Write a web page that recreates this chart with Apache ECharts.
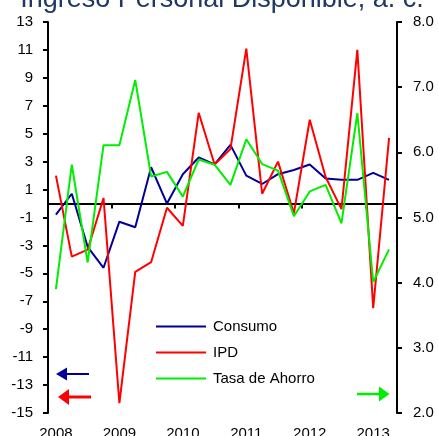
<!DOCTYPE html>
<html>
<head>
<meta charset="utf-8">
<style>
	html, body { margin: 0; padding: 0; background: #fff; }
	#chart { width: 438px; height: 436px; }
</style>
<script src="https://cdn.jsdelivr.net/npm/echarts@6/dist/echarts.min.js"></script>
</head>
<body>
<div id="chart"></div>
<script>
// trimestres 2008-T1 .. 2013-T2
var categorias = [
	'2008-T1', '2008-T2', '2008-T3', '2008-T4',
	'2009-T1', '2009-T2', '2009-T3', '2009-T4',
	'2010-T1', '2010-T2', '2010-T3', '2010-T4',
	'2011-T1', '2011-T2', '2011-T3', '2011-T4',
	'2012-T1', '2012-T2', '2012-T3', '2012-T4',
	'2013-T1', '2013-T2'
];
// eje izquierdo (%)
var consumo = [-0.8, 0.7, -3.1, -4.6, -1.3, -1.7, 2.6, 0.0, 2.1, 3.3, 2.8, 4.2,
	2.0, 1.4, 2.1, 2.4, 2.8, 1.8, 1.7, 1.7, 2.2, 1.7];
var ipd = [2.0, -3.8, -3.3, 0.4, -14.3, -4.9, -4.2, -0.3, -1.6, 6.5, 2.8, 3.9,
	11.1, 0.7, 3.0, -0.7, 6.0, 1.9, -0.4, 11.0, -7.5, 4.7];
// eje derecho (tasa de ahorro)
var tasaAhorro = [3.9, 5.81, 4.31, 6.11, 6.11, 7.11, 5.63, 5.70, 5.32, 5.89, 5.81, 5.50,
	6.20, 5.82, 5.72, 5.02, 5.40, 5.50, 4.91, 6.60, 4.01, 4.51];

var titulo = 'Ingreso Personal Disponible, a. c.';
var fuente = '"Liberation Sans", Arial, sans-serif';

var chart = echarts.init(document.getElementById('chart'));

var ejeY = function (min, max, interval, position, margin, fmt) {
	return {
		type: 'value',
		min: min,
		max: max,
		interval: interval,
		position: position,
		splitLine: { show: false },
		axisLine: { show: true, onZero: false, lineStyle: { color: '#000', width: 2 } },
		axisTick: { show: true, length: 5, lineStyle: { color: '#000', width: 2 } },
		axisLabel: { fontSize: 15, color: '#000', margin: margin, fontFamily: fuente, formatter: fmt }
	};
};

var option = {
	animation: false,
	textStyle: { fontFamily: fuente },
	// sin ajuste automatico: las etiquetas pueden quedar cortadas como en el original
	grid: { left: 48, right: 41, top: 22, bottom: 23, containLabel: false, outerBoundsMode: 'none' },
	legend: {
		orient: 'vertical',
		left: 155,
		top: 319,
		padding: 0,
		itemWidth: 50,
		itemHeight: 14,
		itemGap: 11,
		itemStyle: { opacity: 0 },
		textStyle: { fontSize: 15, color: '#000', padding: [0, 0, 0, 2] },
		data: ['Consumo', 'IPD', 'Tasa de Ahorro']
	},
	xAxis: [{
		type: 'category',
		data: categorias,
		boundaryGap: true,
		position: 'bottom',
		axisLine: { show: true, onZero: true, onZeroAxisIndex: 0, lineStyle: { color: '#000', width: 2 } },
		axisTick: { show: true, interval: 3, length: 5, lineStyle: { color: '#000', width: 2 } },
		axisLabel: { show: false },
		splitLine: { show: false }
	}, {
		type: 'category',
		data: categorias,
		boundaryGap: true,
		position: 'bottom',
		axisLine: { show: false, onZero: false },
		axisTick: { show: false },
		splitLine: { show: false },
		axisLabel: {
			show: true,
			interval: 3,
			fontSize: 15,
			color: '#000',
			margin: 13,
			formatter: function (v) { return v.substr(0, 4); }
		}
	}],
	yAxis: [
		ejeY(-15, 13, 2, 'left', 15),
		ejeY(2, 8, 1, 'right', 16, function (v) { return v.toFixed(1); })
	],
	series: [{
		name: 'Consumo',
		type: 'line',
		data: consumo,
		symbol: 'none',
		color: '#000099',
		lineStyle: { width: 2, color: '#000099' }
	}, {
		name: 'IPD',
		type: 'line',
		data: ipd,
		symbol: 'none',
		color: '#ff0000',
		lineStyle: { width: 2, color: '#ff0000' }
	}, {
		name: 'Tasa de Ahorro',
		type: 'line',
		yAxisIndex: 1,
		data: tasaAhorro,
		symbol: 'none',
		color: '#00ee00',
		lineStyle: { width: 2, color: '#00ee00' }
	}],
	graphic: [
		{
			type: 'text',
			style: {
				text: titulo, x: 222, y: -14, align: 'center', verticalAlign: 'top',
				fontSize: 27, lineHeight: 27, fill: '#1f3864', fontFamily: fuente
			}
		},
		// flechas que indican el eje de cada serie
		{ type: 'line', shape: { x1: 66, y1: 374, x2: 89, y2: 374 }, style: { stroke: '#000099', lineWidth: 2 } },
		{ type: 'polygon', shape: { points: [[56, 374], [67, 367.5], [67, 380.5]] }, style: { fill: '#000099' } },
		{ type: 'line', shape: { x1: 68, y1: 397, x2: 91, y2: 397 }, style: { stroke: '#ff0000', lineWidth: 3 } },
		{ type: 'polygon', shape: { points: [[58, 397], [69, 389], [69, 405]] }, style: { fill: '#ff0000' } },
		{ type: 'line', shape: { x1: 357, y1: 394, x2: 381, y2: 394 }, style: { stroke: '#00ee00', lineWidth: 2.5 } },
		{ type: 'polygon', shape: { points: [[389.5, 394], [379, 386.5], [379, 401.5]] }, style: { fill: '#00ee00' } }
	]
};

chart.setOption(option);
</script>
</body>
</html>
